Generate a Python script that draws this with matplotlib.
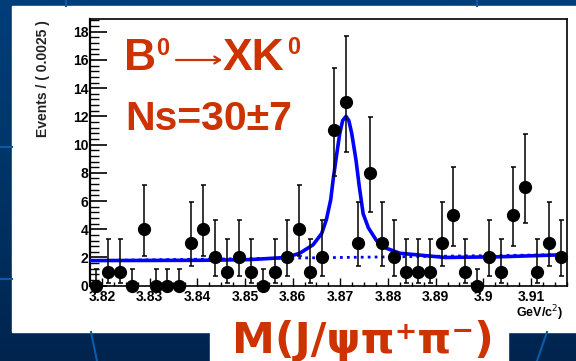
import numpy as np
import matplotlib
matplotlib.use("Agg")
import matplotlib.pyplot as plt
from matplotlib.patches import Rectangle, FancyArrowPatch
from matplotlib.colors import LinearSegmentedColormap
from matplotlib.ticker import MultipleLocator

# Histogram: 40 bins of 0.0025 GeV/c^2
bin_lo = 3.8175
bin_w = 0.0025
counts = [0, 1, 1, 0, 4, 0, 0, 0, 3, 4,
          2, 1, 2, 1, 0, 1, 2, 4, 1, 2,
          11, 13, 3, 8, 3, 2, 1, 1, 1, 3,
          5, 1, 0, 2, 1, 5, 7, 1, 3, 2]

# Poisson (68%) intervals per count, as drawn
pois_lo = {0: 0.0, 1: 0.17, 2: 0.71, 3: 1.37, 4: 2.09, 5: 2.84,
           7: 4.42, 8: 5.24, 11: 7.74, 13: 9.45}
pois_hi = {0: 1.15, 1: 3.30, 2: 4.64, 3: 5.92, 4: 7.16, 5: 8.38,
           7: 10.78, 8: 11.96, 11: 15.43, 13: 17.71}

# Fit curve
fit_m = [3.8175, 3.8406, 3.8511, 3.8586, 3.8615, 3.8643, 3.8661, 3.8671,
         3.8680, 3.8685, 3.8692, 3.8699, 3.8705, 3.8712, 3.8718, 3.8724,
         3.8733, 3.8740, 3.8748, 3.8759, 3.8776, 3.8797, 3.8825, 3.8920,
         3.9035, 3.9175]
fit_y = [1.78, 1.80, 1.85, 2.0, 2.3, 2.9, 3.7, 4.7,
         6.1, 7.5, 9.2, 10.8, 11.7, 12.0, 11.7, 10.8,
         8.9, 7.0, 5.1, 4.1, 3.2, 2.65, 2.3, 2.0,
         2.05, 2.2]
bkg_m = [3.8175, 3.9175]
bkg_y = [1.78, 2.2]

red = "#cc3300"
W, H = 576, 361

fig = plt.figure(figsize=(5.76, 3.61), dpi=100)

# slide background
bg = fig.add_axes([0, 0, 1, 1], zorder=-10)
grad = np.linspace(0, 1, 256).reshape(-1, 1)
cm = LinearSegmentedColormap.from_list("slide", ["#013e7a", "#003466", "#00244e"])
bg.imshow(grad, aspect="auto", cmap=cm, extent=[0, W, H, 0])
bg.set_xlim(0, W)
bg.set_ylim(H, 0)
bg.axis("off")
for xs, ys in [([66, 66], [0, 6]), ([477, 477], [0, 6]), ([0, 12], [279, 279]),
               ([0, 12], [147, 147]), ([91, 97], [332, 361]), ([547, 537], [332, 361])]:
    bg.plot(xs, ys, color="#0a5aa8", lw=1.5)
bg.add_patch(Rectangle((12, 6), W - 12, 326, color="white"))
bg.add_patch(Rectangle((210, 320), 298, 41, color="white"))

ax = fig.add_axes([90 / W, 1 - 285.7 / H, 476.7 / W, 266.7 / H])
centers = [bin_lo + (i + 0.5) * bin_w for i in range(len(counts))]
lo = [pois_lo[c] for c in counts]
hi = [pois_hi[c] for c in counts]
yerr = [[c - l for c, l in zip(counts, lo)], [h - c for c, h in zip(counts, hi)]]

ax.plot(bkg_m, bkg_y, color="blue", lw=2, ls=(0, (1, 1.5)), zorder=2)
ax.plot(fit_m, fit_y, color="blue", lw=2.6, solid_joinstyle="round", zorder=3)
ax.errorbar(centers, counts, yerr=yerr, fmt="o", color="black", ms=8.5,
            elinewidth=1.1, capsize=1.8, capthick=1.1, clip_on=False, zorder=4)

ax.set_xlim(bin_lo, bin_lo + 40 * bin_w)
ax.set_ylim(0, 18.9)
ax.xaxis.set_minor_locator(MultipleLocator(0.0025))
ax.yaxis.set_major_locator(MultipleLocator(2))
ax.yaxis.set_minor_locator(MultipleLocator(0.4))
ax.set_xticks([3.82 + 0.01 * i for i in range(10)])
ax.set_xticklabels(["3.82", "3.83", "3.84", "3.85", "3.86", "3.87", "3.88", "3.89", "3.9", "3.91"])
ax.tick_params(axis="y", which="major", direction="in", length=12, width=1.2, pad=1)
ax.tick_params(axis="y", which="minor", direction="in", length=6.5, width=1.0)
ax.tick_params(axis="x", which="major", direction="in", length=6, width=1.0, pad=3)
ax.tick_params(axis="x", which="minor", direction="in", length=3, width=1.0)
for lab in ax.get_xticklabels() + ax.get_yticklabels():
    lab.set_fontfamily("Liberation Sans")
    lab.set_fontweight("bold")
    lab.set_fontsize(10)
for s in ax.spines.values():
    s.set_linewidth(1.2)
ax.spines["left"].set_linewidth(1.6)

fig.text(43 / W, 1 - 20 / H, "Events / ( 0.0025 )", rotation=90, ha="center", va="top",
         fontsize=10, family="Liberation Sans", fontweight="bold", color="#222222")
fig.text(563 / W, 1 - 313 / H, "GeV/c$^2$)", ha="right", va="center",
         fontsize=9, family="Liberation Sans", fontweight="bold")

# B0 -> X K0, laid out piece by piece
big = dict(color=red, fontweight="bold", family=["Liberation Sans", "DejaVu Sans"])
fig.text(124 / W, 1 - 70 / H, "B", fontsize=32, ha="left", va="baseline", **big)
fig.text(156 / W, 1 - 37 / H, "0", fontsize=17, ha="left", va="top", **big)
fig.text(223 / W, 1 - 70 / H, "XK", fontsize=32, ha="left", va="baseline", **big)
fig.text(287 / W, 1 - 36 / H, "0", fontsize=17, ha="left", va="top", **big)
fig.patches.append(FancyArrowPatch(
    (176 / W, 1 - 60 / H), (222 / W, 1 - 60 / H), transform=fig.transFigure,
    arrowstyle="->,head_length=4,head_width=2.5", color=red, lw=1.6,
    mutation_scale=1, shrinkA=0, shrinkB=0))

fig.text(125 / W, 1 - 130 / H, "Ns=30±7", fontsize=29.5, ha="left", va="baseline", **big)
fig.text(232 / W, 1 - 353 / H, "M(J/ψπ⁺π⁻)", fontsize=31, color=red, fontweight="bold",
         family="DejaVu Sans", ha="left", va="baseline")

fig.savefig("out.png", dpi=100)
